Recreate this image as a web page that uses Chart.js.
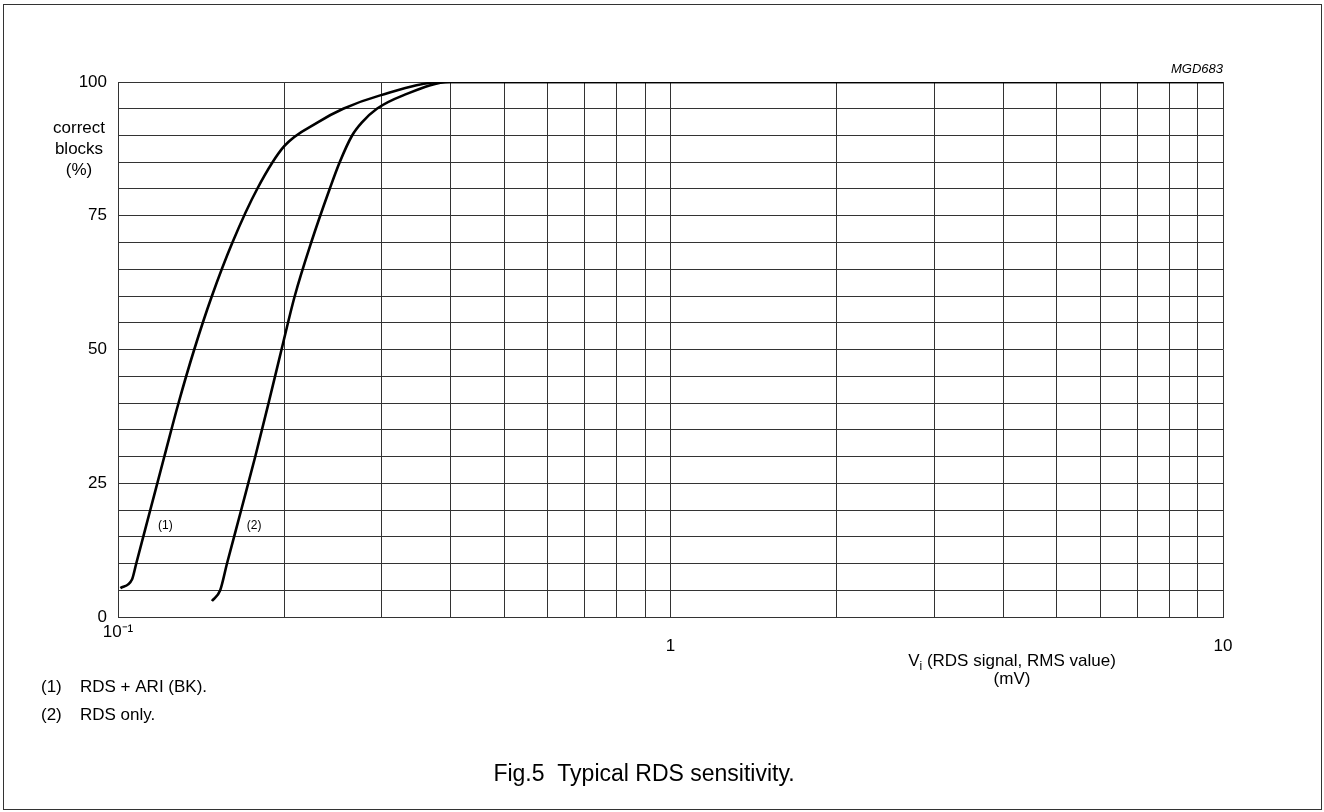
<!DOCTYPE html>
<html lang="en">

<head>
  <meta charset="UTF-8" />
  <title>Fig.5 Typical RDS sensitivity</title>
  <script src="https://cdn.jsdelivr.net/npm/chart.js"></script>
  <style>
    body {
      margin: 0;
      background: #fff;
      font-family: "Liberation Sans", Arial, sans-serif;
    }

    #wrap {
      position: relative;
      width: 1324px;
      height: 812px;
    }

    #frame {
      position: absolute;
      left: 3px;
      top: 4px;
      width: 1317px;
      height: 804px;
      border: 1px solid #333;
      pointer-events: none;
    }
  </style>
</head>

<body>
  <div id="wrap">
    <canvas id="rdsChart" width="1324" height="812"></canvas>
    <div id="frame"></div>
  </div>
  <script>
    // curve (1) RDS + ARI (BK)
    const vi1 = [0.1010, 0.1060, 0.1079, 0.1144, 0.1213, 0.1287, 0.1374, 0.1479,
      0.1611, 0.1786, 0.1999, 0.2303, 0.2556, 0.2982, 0.3878, 10];
    const blocks1 = [5.4, 7, 10, 20, 30, 40, 50, 60,
      70, 80, 88, 92.5, 95, 97.5, 100, 100];

    // curve (2) RDS only
    const vi2 = [0.1479, 0.1531, 0.1575, 0.1671, 0.1772, 0.1873, 0.1977, 0.2089,
      0.2237, 0.2416, 0.2519, 0.2653, 0.2767, 0.2941, 0.3282, 0.3992, 10];
    const blocks2 = [3, 5, 10, 20, 30, 40, 50, 60,
      70, 80, 85, 90, 92.5, 95, 97.5, 100, 100];

    // grid / tick values
    const xGrid = [0.1, 0.2, 0.3, 0.4, 0.5, 0.6, 0.7, 0.8, 0.9, 1, 2, 3, 4, 5, 6, 7, 8, 9, 10];
    const xLabels = { 0.1: '10⁻¹', 1: ['', '1'], 10: ['', '10'] };
    const yLabelStep = 25;

    const toPoints = (xs, ys) => xs.map((x, i) => ({ x: x, y: ys[i] }));

    // extra texts (axis titles, notes, caption)
    const textPlugin = {
      id: 'rdsTexts',
      afterDraw(chart) {
        const { ctx, scales } = chart;
        const x = scales.x, y = scales.y;
        ctx.save();
        ctx.fillStyle = '#000';
        ctx.textBaseline = 'middle';

        // y title
        ctx.font = '17px "Liberation Sans", Arial, sans-serif';
        ctx.textAlign = 'center';
        ctx.fillText('correct', 79, 128);
        ctx.fillText('blocks', 79, 149);
        ctx.fillText('(%)', 79, 170);

        // x title
        const tx = 1012;
        const line1 = ' (RDS signal, RMS value)';
        const wV = ctx.measureText('V').width;
        ctx.font = '12px "Liberation Sans", Arial, sans-serif';
        const wi = ctx.measureText('i').width;
        ctx.font = '17px "Liberation Sans", Arial, sans-serif';
        const wRest = ctx.measureText(line1).width;
        let sx = tx - (wV + wi + wRest) / 2;
        ctx.textAlign = 'left';
        ctx.fillText('V', sx, 661);
        ctx.font = '12px "Liberation Sans", Arial, sans-serif';
        ctx.fillText('i', sx + wV, 667);
        ctx.font = '17px "Liberation Sans", Arial, sans-serif';
        ctx.fillText(line1, sx + wV + wi, 661);
        ctx.textAlign = 'center';
        ctx.fillText('(mV)', tx, 679);

        // curve labels
        ctx.font = '12px "Liberation Sans", Arial, sans-serif';
        ctx.fillText('(1)', x.getPixelForValue(0.1218), y.getPixelForValue(17));
        ctx.fillText('(2)', x.getPixelForValue(0.1764), y.getPixelForValue(17));

        // code
        ctx.font = 'italic 13px "Liberation Sans", Arial, sans-serif';
        ctx.textAlign = 'right';
        ctx.fillText('MGD683', x.right, 69);

        // notes
        ctx.font = '17px "Liberation Sans", Arial, sans-serif';
        ctx.textAlign = 'left';
        ctx.fillText('(1)', 41, 687);
        ctx.fillText('RDS + ARI (BK).', 80, 687);
        ctx.fillText('(2)', 41, 715);
        ctx.fillText('RDS only.', 80, 715);

        // caption
        ctx.font = '23px "Liberation Sans", Arial, sans-serif';
        ctx.textAlign = 'center';
        ctx.fillText('Fig.5  Typical RDS sensitivity.', 644, 775);
        ctx.restore();
      }
    };

    const lineStyle = {
      borderColor: '#000',
      borderWidth: 2.6,
      pointRadius: 0,
      fill: false,
      cubicInterpolationMode: 'monotone'
    };

    const chart = new Chart(document.getElementById('rdsChart'), {
      type: 'line',
      data: {
        datasets: [
          Object.assign({ label: '(1) RDS + ARI (BK)', data: toPoints(vi1, blocks1) }, lineStyle),
          Object.assign({ label: '(2) RDS only', data: toPoints(vi2, blocks2) }, lineStyle)
        ]
      },
      options: {
        responsive: false,
        animation: false,
        devicePixelRatio: 1,
        layout: { padding: { left: 0, top: 82, right: 101, bottom: 135 } },
        plugins: {
          legend: { display: false },
          tooltip: { enabled: false }
        },
        scales: {
          x: {
            type: 'logarithmic',
            min: 0.1,
            max: 10,
            afterBuildTicks(scale) {
              scale.ticks = xGrid.map(v => ({ value: v }));
            },
            afterFit(scale) { scale.height = 60; },
            border: { color: '#333', width: 1 },
            grid: { color: '#333', lineWidth: 1, drawTicks: false },
            ticks: {
              autoSkip: false,
              maxRotation: 0,
              padding: 9,
              color: '#000',
              font: { family: '"Liberation Sans", Arial, sans-serif', size: 17, lineHeight: 0.8 },
              callback: (v) => xLabels[v] !== undefined ? xLabels[v] : ''
            }
          },
          y: {
            min: 0,
            max: 100,
            afterFit(scale) { scale.width = 118; },
            border: { color: '#333', width: 1 },
            grid: { color: '#333', lineWidth: 1, drawTicks: false },
            ticks: {
              stepSize: 5,
              padding: 11,
              color: '#000',
              font: { family: '"Liberation Sans", Arial, sans-serif', size: 17 },
              callback: (v) => v % yLabelStep === 0 ? String(v) : ''
            }
          }
        }
      },
      plugins: [textPlugin]
    });
  </script>
</body>

</html>
